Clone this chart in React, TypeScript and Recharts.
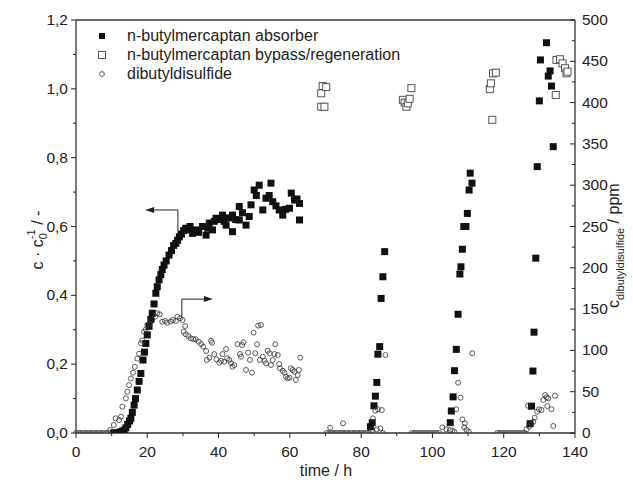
import React from 'react';
import { ScatterChart, Scatter, XAxis, YAxis, ReferenceLine, Legend } from 'recharts';

// time / h, c/c0 (left axis)
const absorber: number[][] = [
  [10.5, 0], [11, 0], [11.5, 0], [12, 0], [12.5, 0.003], [13, 0.005], [13.5, 0.008], [14, 0.015],
  [14.5, 0.025], [15, 0.035], [15.4, 0.043], [15.8, 0.06], [16.3, 0.081], [16.7, 0.1], [17.2, 0.125],
  [17.7, 0.15], [18.2, 0.173], [18.8, 0.212], [19.2, 0.235], [19.6, 0.26], [20, 0.285], [20.5, 0.31],
  [21, 0.33], [21.4, 0.348], [21.9, 0.375], [22.4, 0.406], [22.8, 0.425], [23.3, 0.445], [23.8, 0.46],
  [24.2, 0.475], [24.7, 0.488], [25.3, 0.5], [26.1, 0.517], [26.8, 0.53], [27.4, 0.545], [28, 0.551],
  [28.5, 0.56], [29, 0.57], [29.6, 0.578], [30.2, 0.588], [30.8, 0.595], [31.4, 0.59], [32, 0.6],
  [32.7, 0.58], [33.6, 0.59], [34.4, 0.583], [35.5, 0.6], [36.5, 0.575], [37, 0.595], [37.4, 0.61],
  [38.3, 0.59], [38.8, 0.615], [39.3, 0.624], [40.2, 0.62], [41.1, 0.633], [41.6, 0.615], [42.1, 0.604],
  [43, 0.625], [43.9, 0.585], [43.9, 0.633], [44.8, 0.62], [45.8, 0.658], [45.8, 0.619], [46.7, 0.64],
  [47.7, 0.604], [48.6, 0.629], [49.1, 0.663], [50, 0.706], [50.6, 0.69], [51.4, 0.72], [52.4, 0.648],
  [53.3, 0.682], [54.2, 0.69], [54.7, 0.726], [55.2, 0.672], [56.1, 0.66], [57, 0.648], [58, 0.633],
  [58.8, 0.65], [59.9, 0.653], [60.4, 0.697], [61.3, 0.677], [62, 0.68], [62.7, 0.667], [62.7, 0.619],
  [82.6, 0.018], [83.1, 0.03], [83.6, 0.079], [84, 0.107], [84.4, 0.147], [84.7, 0.229], [85.2, 0.251],
  [85.6, 0.391], [86.1, 0.454], [86.6, 0.527],
  [105, 0.03], [105.3, 0.064], [105.8, 0.105], [106.2, 0.181], [106.7, 0.243], [107.2, 0.345],
  [107.7, 0.462], [108, 0.483], [108.4, 0.534], [108.8, 0.6], [109.4, 0.6], [109.8, 0.638],
  [110.3, 0.706], [111.1, 0.726], [110.6, 0.755],
  [127.4, 0.027], [127.8, 0.078], [128.2, 0.18], [128.5, 0.293], [129, 0.508], [129.4, 0.774],
  [130, 0.965], [130.3, 1.084], [132, 1.134], [132.5, 1.037], [133, 1.052], [133.4, 1.008], [133.9, 0.832],
];

const bypass: number[][] = [
  [68.8, 0.948], [69.7, 0.948], [68.8, 0.987], [69.2, 1.008], [70.2, 1.005],
  [91.7, 0.968], [92.2, 0.96], [92.7, 0.948], [93.1, 0.958], [93.6, 0.971], [94.1, 1.002],
  [116.1, 0.999], [116.4, 1.016], [117, 1.045], [117.8, 1.047], [116.8, 0.91],
  [134.8, 1.084], [135.8, 1.086], [136.5, 1.074], [137.2, 1.06], [137.6, 1.045], [137.9, 1.05], [134.6, 0.982],
];

// time / h, ppm (right axis)
const disulfide: number[][] = [
  [0, 0], [0.7, 0], [1.4, 0], [2.1, 0], [2.8, 0], [3.5, 0], [4.2, 0], [4.9, 0], [5.6, 0], [6.3, 0],
  [7, 0], [7.7, 0], [8.4, 0], [9.1, 0],
  [9.6, 3.6], [10.6, 9.7], [11.1, 17.8], [12.1, 15.7], [12.6, 19.7], [13, 31.8], [14, 42], [14.4, 50],
  [14.9, 58], [15.4, 66], [16, 73], [16.5, 80], [17.2, 90], [17.7, 96], [18.2, 108.6], [18.6, 112],
  [19.1, 122.6], [19.6, 125.5], [20, 131], [20.7, 132], [21.4, 136.8], [22.2, 140.8], [22.8, 145],
  [23.5, 143.7], [24.2, 134.7], [25, 135.6], [25.6, 133.5], [26.6, 134.8], [27.2, 136.8], [28, 135.6],
  [28.5, 140.8], [29.2, 138.9], [29.9, 136.8], [30.6, 129.5], [30.2, 122.6], [30.8, 119.4], [31.5, 117.4],
  [32.2, 114.6], [32.9, 113.8], [33.6, 113.4], [34.4, 110.6], [35.1, 107.7], [35.7, 104.5], [36.5, 99.3],
  [36.7, 88.4], [37.4, 91.2], [37.9, 111.7], [38.2, 109.3], [38.8, 95.6], [39.4, 89.2], [40.2, 85.1],
  [40.7, 87.5], [41.1, 95.6], [41.6, 86.3], [42.1, 101.7], [42.4, 90.4], [43, 88.4], [43.5, 84.4],
  [43.9, 80.3], [44.4, 82.3], [45.3, 107.7], [46, 95.6], [46.3, 92.4], [46.6, 106.5], [47, 109.8],
  [47.7, 76.3], [48.3, 97.2], [48.8, 88.4], [49.4, 73], [49.8, 121.4], [50.3, 96.5], [50.8, 107.4],
  [51.1, 130], [51.9, 130.8], [51.6, 88.4], [52.4, 92.4], [52.9, 87.5], [53.3, 84.4], [53.8, 99.6],
  [54.3, 96.5], [54.7, 82.3], [55.2, 88.4], [55.7, 95.6], [55.9, 107.4], [56.6, 94.4], [57, 83.5],
  [57.2, 78.3], [58, 75.4], [58.5, 73], [58.9, 68.2], [59.4, 66.2], [59.9, 67], [60.3, 78.3],
  [60.8, 76.3], [61.3, 74.2], [61.7, 64.2], [62.2, 70.2], [62.5, 76.3], [62.9, 91.2],
  [70.3, 0], [71, 0], [71.3, 6.4], [71.7, 0], [72.4, 0], [73.1, 0], [73.8, 0], [74.5, 0], [74.9, 11.7],
  [75.2, 0], [75.9, 0], [76.6, 0], [77.3, 0], [78, 0], [78.7, 0], [79.4, 0], [80.1, 0], [80.8, 0],
  [81.5, 0], [82.2, 0],
  [83.1, 3.6], [83.3, 17.8], [84, 27], [84.4, 4.4], [84.7, 28.7], [85.4, 5.6], [85.8, 27.8], [86.1, 0],
  [86.8, 94.4],
  [94.2, 0], [94.9, 0], [95.6, 0], [96.3, 0], [97, 0], [97.7, 0], [98.4, 0], [99.1, 0], [99.8, 0],
  [100.5, 0], [101.2, 0], [101.9, 0],
  [102.8, 6.9], [103.9, 4.4], [104.9, 3.6], [105.6, 2.8], [106.2, 1.2], [106.7, 28.7], [107.2, 60.9],
  [107.9, 42.8], [108.4, 16.5], [108.9, 6.9], [109.1, 11.7], [109.6, 3.6], [110.2, 1.6], [111.2, 96.5],
  [118.2, 0], [118.9, 0], [119.6, 0], [120.3, 0], [121, 0], [121.7, 0], [122.4, 0], [123.1, 0],
  [123.8, 0], [124.5, 0], [125.2, 0], [125.9, 0],
  [126.4, 4.4], [126.8, 33], [127.1, 7.7], [127.8, 10.5], [128.3, 13.7], [128.7, 18.5], [129.4, 25.8],
  [129.9, 28.7], [130.6, 27.8], [131.1, 40], [131.6, 46], [132, 43.2], [132.2, 32.7], [132.5, 42],
  [133.4, 28.7], [133.9, 8.5], [134.4, 45.2],
];

const seriesNames = [
  'n-butylmercaptan absorber',
  'n-butylmercaptan bypass/regeneration',
  'dibutyldisulfide',
];

const timeTicks = [0, 10, 20, 30, 40, 50, 60, 70, 80, 90, 100, 110, 120, 130, 140];
const ratioTicks = [0, 0.1, 0.2, 0.3, 0.4, 0.5, 0.6, 0.7, 0.8, 0.9, 1, 1.1, 1.2];
const ppmTicks = [0, 25, 50, 75, 100, 125, 150, 175, 200, 225, 250, 275, 300, 325, 350, 375, 400, 425, 450, 475, 500];

// arrow annotations (time, c/c0)
const leftArrow = [[28.6, 0.569], [28.6, 0.648], [19.4, 0.648]];
const rightArrow = [[29.7, 0.334], [29.7, 0.389], [38.4, 0.389]];

const FONT = '"Liberation Sans", Arial, sans-serif';
const INK = '#222';
const AXIS = { stroke: '#333', strokeWidth: 1.3 };

const toPoints = (rows: number[][]) => rows.map(([x, y]) => ({ x, y }));

function BottomTick({ x, y, payload }: any) {
  const v = payload.value;
  const major = v % 20 === 0;
  return (
    <g>
      <line x1={x} x2={x} y1={y} y2={y + (major ? 5 : 3)} stroke={INK} />
      {major && (
        <text x={x} y={y + 24} textAnchor="middle" fontFamily={FONT} fontSize={15.5} fill={INK}>{v}</text>
      )}
    </g>
  );
}

function TopTick({ x, y, payload }: any) {
  const major = payload.value % 20 === 0;
  return <line x1={x} x2={x} y1={y} y2={y + (major ? 5 : 3)} stroke={INK} />;
}

function LeftTick({ x, y, payload }: any) {
  const v = payload.value;
  const major = Math.round(v * 10) % 2 === 0;
  return (
    <g>
      <line x1={x} x2={x - (major ? 5 : 3)} y1={y} y2={y} stroke={INK} />
      {major && (
        <text x={x - 8} y={y + 5} textAnchor="end" fontFamily={FONT} fontSize={15.5} fill={INK}>
          {v.toFixed(1).replace('.', ',')}
        </text>
      )}
    </g>
  );
}

function RightTick({ x, y, payload }: any) {
  const v = payload.value;
  const major = v % 50 === 0;
  return (
    <g>
      <line x1={x} x2={x - (major ? 5 : 3)} y1={y} y2={y} stroke={INK} />
      {major && (
        <text x={x + 7} y={y + 5} textAnchor="start" fontFamily={FONT} fontSize={15.5} fill={INK}>{v}</text>
      )}
    </g>
  );
}

const LeftTitle = () => (
  <text x={43} y={240} transform="rotate(-90 43 240)" textAnchor="middle" fontFamily={FONT} fontSize={16} fill={INK}>
    c · c<tspan fontSize={11} dy={4}>0</tspan>
    <tspan fontSize={11} dx={-6} dy={-12}>-1</tspan>
    <tspan dy={8}> / -</tspan>
  </text>
);

const RightTitle = () => (
  <text x={619} y={308} transform="rotate(-90 619 308)" textAnchor="start" fontFamily={FONT} fontSize={16} fill={INK}>
    c<tspan fontSize={11} dy={5}>dibutyldisulfide</tspan>
    <tspan dy={-5}> / ppm</tspan>
  </text>
);

const XTitle = () => (
  <text x={326} y={476} textAnchor="middle" fontFamily={FONT} fontSize={16} fill={INK}>time / h</text>
);

const FilledSquare = ({ cx, cy }: any) => <rect x={cx - 3.5} y={cy - 3.5} width={7} height={7} fill="#111" />;
const OpenSquare = ({ cx, cy }: any) => (
  <rect x={cx - 3.5} y={cy - 3.5} width={7} height={7} fill="#fff" stroke="#555" strokeWidth={1} />
);
const OpenCircle = ({ cx, cy }: any) => (
  <circle cx={cx} cy={cy} r={2.5} fill="none" stroke="#333" strokeWidth={0.8} />
);

const ArrowShape = (head: boolean) => ({ x1, y1, x2, y2 }: any) => {
  const dx = x2 - x1;
  const dy = y2 - y1;
  const len = Math.sqrt(dx * dx + dy * dy) || 1;
  const ux = dx / len;
  const uy = dy / len;
  const bx = x2 - ux * 9;
  const by = y2 - uy * 9;
  return (
    <g>
      <line x1={x1} y1={y1} x2={head ? bx : x2} y2={head ? by : y2} stroke={INK} strokeWidth={1} />
      {head && (
        <polygon
          points={`${x2},${y2} ${bx - uy * 3},${by + ux * 3} ${bx + uy * 3},${by - ux * 3}`}
          fill={INK}
        />
      )}
    </g>
  );
};

const legendMarkers = [
  <rect key="a" x={3} y={4} width={6} height={6} fill="#111" />,
  <rect key="b" x={2.5} y={3.5} width={7} height={7} fill="#fff" stroke="#555" />,
  <circle key="c" cx={6} cy={7} r={2.4} fill="none" stroke="#333" strokeWidth={0.8} />,
];

const renderLegend = () => (
  <div style={{ fontFamily: FONT, fontSize: 16, color: INK }}>
    {seriesNames.map((name, i) => (
      <div key={name} style={{ display: 'flex', alignItems: 'center', height: 19 }}>
        <svg width={12} height={14} style={{ marginRight: 19 }}>{legendMarkers[i]}</svg>
        <span>{name}</span>
      </div>
    ))}
  </div>
);

function segments(pts: number[][]) {
  const out: { a: number[]; b: number[]; head: boolean }[] = [];
  for (let i = 0; i < pts.length - 1; i++) {
    out.push({ a: pts[i], b: pts[i + 1], head: i === pts.length - 2 });
  }
  return out;
}

export default function App() {
  const arrows = [...segments(leftArrow), ...segments(rightArrow)];
  return (
    <div style={{ position: 'absolute', left: 0, top: 0, background: '#fff' }}>
      <ScatterChart width={633} height={487} margin={{ top: 0, right: 0, bottom: 0, left: 0 }}>
        <XAxis
          xAxisId="b"
          type="number"
          dataKey="x"
          domain={[0, 140]}
          ticks={timeTicks}
          interval={0}
          height={54}
          tickSize={0}
          tickMargin={0}
          tickLine={false}
          axisLine={AXIS}
          tick={<BottomTick />}
          label={{ content: XTitle }}
        />
        <XAxis
          xAxisId="t"
          orientation="top"
          type="number"
          domain={[0, 140]}
          ticks={timeTicks}
          interval={0}
          height={20}
          tickSize={0}
          tickMargin={0}
          tickLine={false}
          axisLine={AXIS}
          tick={<TopTick />}
        />
        <YAxis
          yAxisId="l"
          type="number"
          dataKey="y"
          domain={[0, 1.2]}
          ticks={ratioTicks}
          interval={0}
          allowDataOverflow
          width={76}
          tickSize={0}
          tickMargin={0}
          tickLine={false}
          axisLine={AXIS}
          tick={<LeftTick />}
          label={{ content: LeftTitle }}
        />
        <YAxis
          yAxisId="r"
          orientation="right"
          type="number"
          dataKey="y"
          domain={[0, 500]}
          ticks={ppmTicks}
          interval={0}
          allowDataOverflow
          width={58}
          tickSize={0}
          tickMargin={0}
          tickLine={false}
          axisLine={AXIS}
          tick={<RightTick />}
          label={{ content: RightTitle }}
        />
        <Legend
          layout="vertical"
          align="center"
          verticalAlign="middle"
          wrapperStyle={{ left: 96, top: 26, width: 340 }}
          content={renderLegend}
        />
        <Scatter name={seriesNames[0]} data={toPoints(absorber)} xAxisId="b" yAxisId="l" shape={FilledSquare} isAnimationActive={false} />
        <Scatter name={seriesNames[1]} data={toPoints(bypass)} xAxisId="b" yAxisId="l" shape={OpenSquare} isAnimationActive={false} />
        <Scatter name={seriesNames[2]} data={toPoints(disulfide)} xAxisId="b" yAxisId="r" shape={OpenCircle} isAnimationActive={false} />
        {arrows.map((s, i) => (
          <ReferenceLine
            key={i}
            xAxisId="b"
            yAxisId="l"
            segment={[{ x: s.a[0], y: s.a[1] }, { x: s.b[0], y: s.b[1] }]}
            shape={ArrowShape(s.head)}
          />
        ))}
      </ScatterChart>
    </div>
  );
}
